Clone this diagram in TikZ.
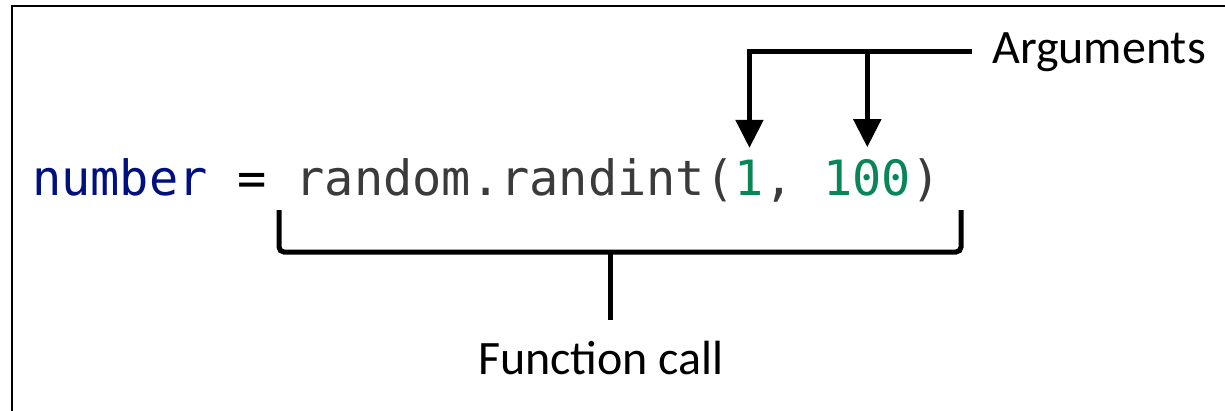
\documentclass[tikz,border=0pt]{standalone}
\usepackage{fontspec}
\setmainfont{Carlito}
\newfontfamily\codefont{DejaVu Sans Mono}
\usetikzlibrary{arrows.meta}
\definecolor{varblue}{HTML}{001080}
\definecolor{codegray}{HTML}{3B3B3B}
\definecolor{numgreen}{HTML}{098658}
\tikzset{
  code/.style={anchor=base west, inner sep=0pt, font=\codefont\fontsize{48.6}{58}\selectfont},
  label/.style={inner sep=0pt, font=\fontsize{48}{57}\selectfont, text=black},
  thick line/.style={line width=5pt, draw=black},
  pointer/.style={thick line, -{Triangle[width=27pt,length=28pt]}},
  frame/.style={line width=1.3pt, draw=black}
}
\begin{document}
\begin{tikzpicture}[x=1pt,y=-1pt]
\useasboundingbox (0,0) rectangle (1225,410);
\fill[white] (0,0) rectangle (1225,410);
\draw[frame] (12,412) -- (12,6) -- (1227,6);

% code line
\node[code] (lhs) at (32,195.5) {\textcolor{varblue}{number} = \textcolor{codegray}{random.randint(}};
\node[code, text=numgreen] (a1) at (lhs.base east) {1};
\node[code, text=codegray] (sep) at (a1.base east) {,\phantom{0}};
\node[code, text=numgreen] (a2) at (sep.base east) {100};
\node[code, text=codegray] (rp) at (a2.base east) {)};

% labels
\node[label, anchor=base west] (args) at (992,63) {Arguments};
\node[label, anchor=base] (fc) at (601,374) {Function call};

% argument pointers
\coordinate (join) at (args.west -| a1.north);
\draw[pointer, shorten <=20pt] (args.west) -- (join) -- ([yshift=12pt]a1.north);
\draw[pointer] (join -| a2.north) -- ([yshift=12pt]a2.north);

% function call bracket
\coordinate (lb) at (279,210);
\coordinate (rb) at (961,210);
\coordinate (bmid) at (610,252);
\draw[thick line, rounded corners=5pt] (lb) -- (lb |- bmid) -- (rb |- bmid) -- (rb);
\draw[thick line] (bmid) -- (bmid |- 0,320);
\end{tikzpicture}
\end{document}
